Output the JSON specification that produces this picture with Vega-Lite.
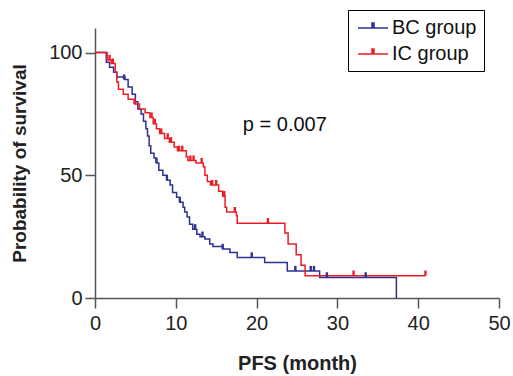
{
  "$schema": "https://vega.github.io/schema/vega-lite/v6.json",
  "autosize": "none",
  "width": 404,
  "height": 270,
  "padding": {"left": 95, "top": 28, "right": 14, "bottom": 78},
  "background": "white",
  "config": {
    "font": "Liberation Sans",
    "view": {"stroke": null},
    "axis": {"grid": false, "labelFlush": false, "domainColor": "#555", "tickColor": "#555", "domainWidth": 1.5, "tickWidth": 1.5, "tickSize": 10, "labelFontSize": 20, "labelColor": "#222", "titleFontSize": 20, "titleFontWeight": "bold", "titleColor": "#222", "labelFont": "Liberation Sans", "titleFont": "Liberation Sans"}
  },
  "datasets": {
    "curves": [
      {"group": "BC group", "t": 0, "s": 100},
      {"group": "BC group", "t": 1.4, "s": 96},
      {"group": "BC group", "t": 1.8, "s": 94},
      {"group": "BC group", "t": 2.3, "s": 92},
      {"group": "BC group", "t": 2.7, "s": 90},
      {"group": "BC group", "t": 3.7, "s": 89},
      {"group": "BC group", "t": 4.1, "s": 86},
      {"group": "BC group", "t": 4.6, "s": 83},
      {"group": "BC group", "t": 5.0, "s": 80},
      {"group": "BC group", "t": 5.3, "s": 77},
      {"group": "BC group", "t": 5.7, "s": 75},
      {"group": "BC group", "t": 6.0, "s": 72},
      {"group": "BC group", "t": 6.3, "s": 69},
      {"group": "BC group", "t": 6.5, "s": 66},
      {"group": "BC group", "t": 6.7, "s": 62},
      {"group": "BC group", "t": 6.9, "s": 59},
      {"group": "BC group", "t": 7.3, "s": 57},
      {"group": "BC group", "t": 7.6, "s": 55},
      {"group": "BC group", "t": 7.9, "s": 52},
      {"group": "BC group", "t": 8.4, "s": 50},
      {"group": "BC group", "t": 8.9, "s": 48},
      {"group": "BC group", "t": 9.3, "s": 46},
      {"group": "BC group", "t": 9.6, "s": 43},
      {"group": "BC group", "t": 10.1, "s": 41},
      {"group": "BC group", "t": 10.5, "s": 39},
      {"group": "BC group", "t": 10.9, "s": 37},
      {"group": "BC group", "t": 11.1, "s": 35},
      {"group": "BC group", "t": 11.4, "s": 33},
      {"group": "BC group", "t": 11.7, "s": 30},
      {"group": "BC group", "t": 12.1, "s": 28},
      {"group": "BC group", "t": 12.6, "s": 26},
      {"group": "BC group", "t": 13.0, "s": 25},
      {"group": "BC group", "t": 13.6, "s": 24},
      {"group": "BC group", "t": 14.2, "s": 22},
      {"group": "BC group", "t": 14.6, "s": 21},
      {"group": "BC group", "t": 15.8, "s": 20},
      {"group": "BC group", "t": 16.7, "s": 18.5},
      {"group": "BC group", "t": 17.6, "s": 16.5},
      {"group": "BC group", "t": 21.0, "s": 14.5},
      {"group": "BC group", "t": 23.8, "s": 11},
      {"group": "BC group", "t": 27.8, "s": 8.4},
      {"group": "BC group", "t": 37.3, "s": 0},
      {"group": "IC group", "t": 0, "s": 100},
      {"group": "IC group", "t": 1.5, "s": 97},
      {"group": "IC group", "t": 2.0, "s": 95.5},
      {"group": "IC group", "t": 2.5, "s": 92},
      {"group": "IC group", "t": 2.7, "s": 88},
      {"group": "IC group", "t": 2.9, "s": 85},
      {"group": "IC group", "t": 3.5, "s": 83},
      {"group": "IC group", "t": 4.1, "s": 81},
      {"group": "IC group", "t": 4.9, "s": 79},
      {"group": "IC group", "t": 5.5, "s": 77},
      {"group": "IC group", "t": 6.2, "s": 75.5},
      {"group": "IC group", "t": 6.8, "s": 73.5},
      {"group": "IC group", "t": 7.2, "s": 71},
      {"group": "IC group", "t": 7.6, "s": 69},
      {"group": "IC group", "t": 8.0, "s": 67},
      {"group": "IC group", "t": 8.6, "s": 65},
      {"group": "IC group", "t": 9.2, "s": 63.5},
      {"group": "IC group", "t": 9.8, "s": 61.5},
      {"group": "IC group", "t": 10.2, "s": 60},
      {"group": "IC group", "t": 11.3, "s": 57.5},
      {"group": "IC group", "t": 11.5, "s": 56},
      {"group": "IC group", "t": 12.5, "s": 55},
      {"group": "IC group", "t": 13.4, "s": 53.5},
      {"group": "IC group", "t": 13.6, "s": 50},
      {"group": "IC group", "t": 13.9, "s": 47.5},
      {"group": "IC group", "t": 14.3, "s": 46},
      {"group": "IC group", "t": 15.3, "s": 43.5},
      {"group": "IC group", "t": 15.8, "s": 41.5},
      {"group": "IC group", "t": 16.1, "s": 37},
      {"group": "IC group", "t": 16.3, "s": 35},
      {"group": "IC group", "t": 17.5, "s": 33.5},
      {"group": "IC group", "t": 17.6, "s": 30.5},
      {"group": "IC group", "t": 23.5, "s": 26.5},
      {"group": "IC group", "t": 23.9, "s": 22},
      {"group": "IC group", "t": 24.9, "s": 17.6},
      {"group": "IC group", "t": 25.5, "s": 13.3},
      {"group": "IC group", "t": 26.0, "s": 9.1},
      {"group": "IC group", "t": 40.9, "s": 9.1}
    ],
    "censor": [
      {"group": "BC group", "t": 3.6, "s": 89},
      {"group": "BC group", "t": 7.6, "s": 55},
      {"group": "BC group", "t": 8.9, "s": 48},
      {"group": "BC group", "t": 10.5, "s": 39},
      {"group": "BC group", "t": 12.4, "s": 28},
      {"group": "BC group", "t": 13.3, "s": 25},
      {"group": "BC group", "t": 15.8, "s": 20},
      {"group": "BC group", "t": 19.4, "s": 16.5},
      {"group": "BC group", "t": 24.8, "s": 11},
      {"group": "BC group", "t": 26.7, "s": 11},
      {"group": "BC group", "t": 27.1, "s": 11},
      {"group": "BC group", "t": 28.7, "s": 8.4},
      {"group": "BC group", "t": 33.5, "s": 8.4},
      {"group": "IC group", "t": 1.8, "s": 97},
      {"group": "IC group", "t": 2.2, "s": 95.5},
      {"group": "IC group", "t": 4.9, "s": 79},
      {"group": "IC group", "t": 7.0, "s": 73.5},
      {"group": "IC group", "t": 7.4, "s": 71},
      {"group": "IC group", "t": 8.2, "s": 67},
      {"group": "IC group", "t": 9.0, "s": 65},
      {"group": "IC group", "t": 9.4, "s": 63.5},
      {"group": "IC group", "t": 10.4, "s": 60},
      {"group": "IC group", "t": 10.8, "s": 60},
      {"group": "IC group", "t": 11.8, "s": 56},
      {"group": "IC group", "t": 12.2, "s": 56},
      {"group": "IC group", "t": 13.2, "s": 55},
      {"group": "IC group", "t": 14.5, "s": 46},
      {"group": "IC group", "t": 15.0, "s": 46},
      {"group": "IC group", "t": 16.0, "s": 41.5},
      {"group": "IC group", "t": 17.3, "s": 35},
      {"group": "IC group", "t": 21.4, "s": 30.5},
      {"group": "IC group", "t": 32.0, "s": 9.1},
      {"group": "IC group", "t": 40.9, "s": 9.1}
    ]
  },
  "layer": [
    {
      "data": {"name": "curves"},
      "mark": {"type": "line", "interpolate": "step-after", "strokeWidth": 1.5},
      "encoding": {
        "x": {"field": "t", "type": "quantitative", "scale": {"domain": [0, 50], "nice": false}, "axis": {"values": [0, 10, 20, 30, 40, 50], "title": "PFS (month)", "titlePadding": 20, "labelPadding": 5}},
        "y": {"field": "s", "type": "quantitative", "scale": {"domain": [0, 110], "nice": false}, "axis": {"values": [0, 50, 100], "title": "Probability of survival", "titlePadding": 19, "titleFontSize": 19, "labelPadding": 3}},
        "color": {
          "field": "group", "type": "nominal",
          "scale": {"domain": ["BC group", "IC group"], "range": ["#2e3192", "#ed1c24"]},
          "legend": {
            "orient": "none", "legendX": 253, "legendY": -18, "title": null,
            "strokeColor": "black", "padding": 7, "labelFontSize": 20, "labelColor": "#111",
            "symbolType": "M-0.8,0H2.2M0.6,0V-0.5H0.8V0Z", "symbolSize": 400, "symbolStrokeWidth": 1.5,
            "rowPadding": 5, "labelOffset": 15,
            "encode": {"symbols": {"update": {"fill": {"scale": "color", "field": "value"}, "stroke": {"scale": "color", "field": "value"}, "opacity": {"value": 1}}}}
          }
        }
      }
    },
    {
      "data": {"name": "censor"},
      "mark": {"type": "point", "shape": "M-0.4,-1.7H0.4V0H-0.4Z", "filled": true, "size": 36, "opacity": 1},
      "encoding": {
        "x": {"field": "t", "type": "quantitative"},
        "y": {"field": "s", "type": "quantitative"},
        "color": {"field": "group", "type": "nominal"}
      }
    },
    {
      "data": {"values": [{"x": 18.3, "y": 70.5, "label": "p = 0.007"}]},
      "mark": {"type": "text", "align": "left", "baseline": "middle", "fontSize": 20, "color": "#111", "font": "Liberation Sans"},
      "encoding": {
        "x": {"field": "x", "type": "quantitative"},
        "y": {"field": "y", "type": "quantitative"},
        "text": {"field": "label"}
      }
    }
  ]
}
